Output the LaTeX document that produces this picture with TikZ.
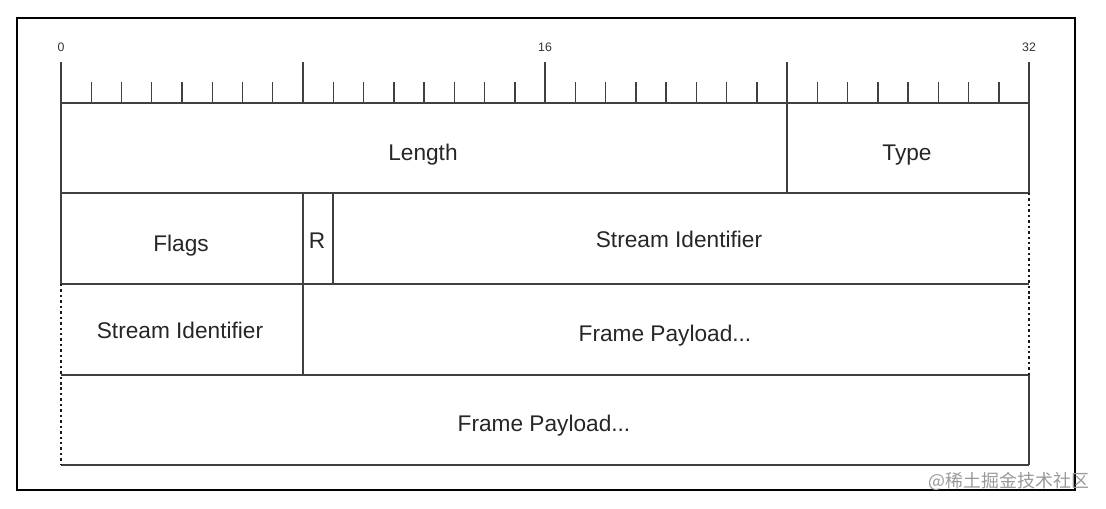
\documentclass[tikz,border=0pt]{standalone}
\usepackage{fontspec}
\setmainfont{Liberation Sans}
\newfontfamily\cjkfont{Noto Sans CJK SC}
\begin{document}
\begin{tikzpicture}[x=0.02cm, y=-0.02cm,
        field/.style={draw=black!75, line width=0.85pt},
        dotedge/.style={draw=black!90, line width=1.5pt, dash pattern=on 1.4pt off 1.7pt},
        fieldtext/.style={font=\fontsize{12.9}{15}\selectfont, text=black!85, anchor=base},
        bitnum/.style={font=\fontsize{7}{8}\selectfont, text=black!80}]
    \useasboundingbox (0,0) rectangle (1106,508);
    \draw[line width=1.4pt] (17,18) rectangle (1075,490);

    % ruler
    \draw[field] (61,103) -- (1029,103);
    \foreach \b in {0,8,16,24,32}
        \draw[field] ({61+30.25*\b},62) -- ({61+30.25*\b},103);
    \foreach \b in {1,...,7,9,10,...,15,17,18,...,23,25,26,...,31}
        \draw[field] ({61+30.25*\b},82) -- ({61+30.25*\b},103);
    \node[bitnum] (bit0) at (61,47) {0};
    \node[bitnum] (bit16) at (545,47) {16};
    \node[bitnum] (bit32) at (1029,47) {32};

    % rows
    \draw[field] (61,193) -- (1029,193);
    \draw[field] (61,284) -- (1029,284);
    \draw[field] (61,375) -- (1029,375);
    \draw[field] (61,465) -- (1029,465);
    \draw[field] (61,103) -- (61,284);
    \draw[field] (1029,103) -- (1029,193);
    \draw[field] (1029,375) -- (1029,465);
    \draw[dotedge] (61,284) -- (61,465);
    \draw[dotedge] (1029,193) -- (1029,375);
    \draw[field] (787,103) -- (787,193);
    \draw[field] (303,193) -- (303,375);
    \draw[field] (333,193) -- (333,284);

    \node[fieldtext] (length) at (423,160) {Length};
    \node[fieldtext] (type) at (907,160) {Type};
    \node[fieldtext] (flags) at (181,251) {Flags};
    \node[fieldtext] (rbit) at (317,248) {R};
    \node[fieldtext] (streamid) at (679,247) {Stream Identifier};
    \node[fieldtext] (streamid2) at (180,338) {Stream Identifier};
    \node[fieldtext] (payload) at (665,341) {Frame Payload...};
    \node[fieldtext] (payload2) at (544,431) {Frame Payload...};

    \node[font=\cjkfont\fontsize{10.2}{12}\selectfont, text=black!40] (mark) at (1009,481) {@稀土掘金技术社区};
\end{tikzpicture}
\end{document}
